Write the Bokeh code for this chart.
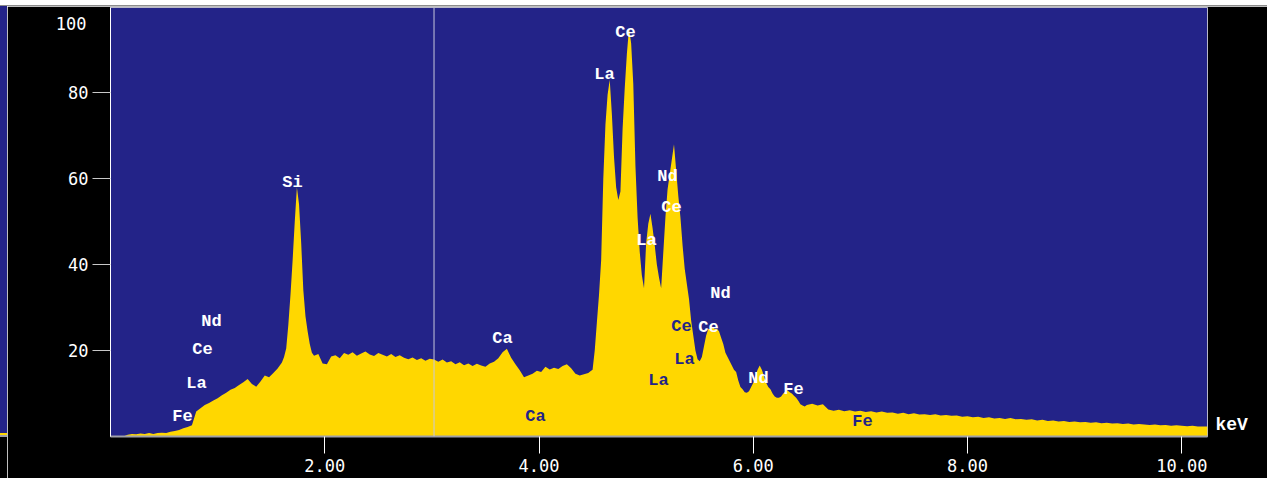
from bokeh.plotting import figure
from bokeh.models import (Range1d, FixedTicker, Span, ColumnDataSource,
                          Spacer, NumeralTickFormatter, LinearAxis)
from bokeh.layouts import column, row
from bokeh.core.properties import value
from bokeh.embed import file_html
from bokeh.resources import INLINE

# ---------------- data ----------------
# low-energy region
energy_low = [0.00, 0.04, 0.08, 0.12, 0.16, 0.20, 0.24, 0.28, 0.32, 0.36,
              0.40, 0.44, 0.48, 0.52, 0.56, 0.60, 0.64, 0.68, 0.72, 0.76,
              0.80, 0.84, 0.88, 0.92, 0.96, 1.00, 1.04, 1.08, 1.12, 1.16,
              1.20, 1.24, 1.28, 1.32, 1.36, 1.40, 1.44, 1.48, 1.52, 1.56, 1.60]
counts_low = [0.0, 0.0, 0.0, 0.0, 0.4, 0.6, 0.5, 0.7, 0.6, 0.8,
              0.6, 0.8, 0.9, 0.8, 1.1, 1.3, 1.5, 1.9, 2.2, 2.6,
              5.8, 6.6, 7.3, 7.8, 8.4, 8.9, 9.6, 10.2, 10.9, 11.3,
              12.0, 12.6, 13.4, 12.2, 11.6, 12.8, 14.2, 13.8, 14.8, 15.8, 17.2]

# Si peak
energy_si = [1.62, 1.64, 1.66, 1.68, 1.70, 1.72, 1.74, 1.76, 1.78, 1.80,
             1.82, 1.84, 1.86, 1.88, 1.90]
counts_si = [18.5, 20.5, 26.0, 33.0, 41.0, 50.0, 58.0, 54.0, 45.0, 34.0,
             28.0, 24.5, 21.5, 19.5, 18.8]

# plateau and Ca
energy_mid = [1.94, 1.98, 2.02, 2.06, 2.10, 2.14, 2.18, 2.22, 2.26, 2.30,
              2.34, 2.38, 2.42, 2.46, 2.50, 2.54, 2.58, 2.62, 2.66, 2.70,
              2.74, 2.78, 2.82, 2.86, 2.90, 2.94, 2.98, 3.02, 3.06, 3.10,
              3.14, 3.18, 3.22, 3.26, 3.30, 3.34, 3.38, 3.42, 3.46, 3.50,
              3.54, 3.58, 3.62, 3.66, 3.70, 3.74, 3.78, 3.82, 3.86, 3.90,
              3.94, 3.98, 4.02, 4.06, 4.10, 4.14, 4.18, 4.22, 4.26, 4.30,
              4.34, 4.38, 4.42, 4.46]
counts_mid = [19.2, 17.0, 16.8, 18.6, 18.9, 18.2, 19.4, 19.0, 19.6, 18.8,
              19.3, 19.8, 19.1, 18.7, 19.4, 19.0, 18.6, 19.2, 18.5, 18.9,
              18.3, 18.0, 18.4, 17.8, 18.2, 17.6, 18.1, 17.9, 17.4, 17.9,
              17.2, 17.5, 16.8, 17.3, 16.6, 17.0, 16.4, 16.9, 16.5, 16.2,
              17.0, 17.4, 18.2, 19.6, 20.4, 18.3, 16.8, 15.4, 13.8, 14.2,
              14.6, 15.3, 15.0, 16.2, 15.6, 16.0, 15.7, 16.4, 16.8, 15.9,
              14.6, 14.2, 14.5, 14.8]

# rare-earth L lines, Fe K
energy_ree = [4.48, 4.50, 4.52, 4.54, 4.56, 4.58, 4.60, 4.62, 4.64, 4.66,
              4.68, 4.70, 4.72, 4.74, 4.76, 4.78, 4.80, 4.82, 4.84, 4.86,
              4.88, 4.90, 4.92, 4.94, 4.96, 4.98, 5.00, 5.02, 5.04, 5.06,
              5.08, 5.10, 5.12, 5.14, 5.16, 5.18, 5.20, 5.22, 5.24, 5.26,
              5.28, 5.30, 5.32, 5.34, 5.36, 5.38, 5.40, 5.42, 5.44, 5.46,
              5.48, 5.50, 5.52, 5.54, 5.56, 5.58, 5.60, 5.62, 5.64, 5.66,
              5.68, 5.70, 5.72, 5.74, 5.76, 5.78, 5.80, 5.82, 5.84, 5.86,
              5.88, 5.90, 5.92, 5.94, 5.96, 5.98, 6.00, 6.02, 6.04, 6.06,
              6.08, 6.10, 6.12, 6.14, 6.16, 6.18, 6.20, 6.22, 6.24, 6.26,
              6.28, 6.30, 6.32, 6.34, 6.36, 6.38, 6.40, 6.42, 6.44, 6.46,
              6.48, 6.50]
counts_ree = [15.2, 15.5, 20.0, 26.5, 33.0, 41.0, 60.0, 72.5, 79.5, 83.0,
              75.0, 65.0, 58.0, 55.0, 57.0, 71.5, 81.0, 89.0, 95.0, 91.5,
              82.0, 63.0, 51.0, 43.0, 37.5, 34.5, 45.0, 49.5, 51.8, 48.5,
              44.5, 40.0, 37.0, 34.5, 42.8, 51.0, 57.5, 61.0, 64.5, 68.0,
              62.0, 56.0, 51.0, 44.5, 39.0, 35.5, 32.0, 27.0, 23.5, 20.0,
              18.0, 17.5, 18.5, 21.0, 23.5, 25.0, 25.0, 25.5, 25.0, 25.0,
              24.5, 23.0, 21.5, 19.5, 18.5, 17.5, 16.5, 15.5, 15.0, 13.0,
              11.5, 11.0, 10.3, 10.2, 10.5, 11.5, 12.5, 14.0, 15.5, 16.5,
              15.5, 14.0, 12.5, 11.5, 11.0, 10.0, 9.3, 9.0, 9.0, 9.3,
              10.0, 10.5, 10.7, 10.3, 10.0, 9.5, 9.0, 8.3, 7.5, 7.2,
              7.0, 7.3]

# high-energy tail
energy_tail = [6.55, 6.60, 6.65, 6.70, 6.75, 6.80, 6.85, 6.90, 6.95, 7.00,
               7.05, 7.10, 7.15, 7.20, 7.25, 7.30, 7.35, 7.40, 7.45, 7.50,
               7.55, 7.60, 7.65, 7.70, 7.75, 7.80, 7.85, 7.90, 7.95, 8.00,
               8.05, 8.10, 8.15, 8.20, 8.25, 8.30, 8.35, 8.40, 8.45, 8.50,
               8.55, 8.60, 8.65, 8.70, 8.75, 8.80, 8.85, 8.90, 8.95, 9.00,
               9.05, 9.10, 9.15, 9.20, 9.25, 9.30, 9.35, 9.40, 9.45, 9.50,
               9.55, 9.60, 9.65, 9.70, 9.75, 9.80, 9.85, 9.90, 9.95, 10.00,
               10.05, 10.10, 10.15, 10.20, 10.24]
counts_tail = [7.6, 7.2, 7.5, 6.3, 6.0, 6.2, 5.9, 6.1, 5.8, 6.0,
               5.7, 5.9, 5.6, 5.8, 5.5, 5.6, 5.3, 5.5, 5.2, 5.4,
               5.1, 5.2, 5.0, 5.2, 4.9, 5.0, 4.8, 4.9, 4.6, 4.7,
               4.5, 4.6, 4.3, 4.5, 4.2, 4.3, 4.1, 4.3, 4.0, 4.1,
               3.9, 4.0, 3.7, 3.9, 3.6, 3.7, 3.5, 3.6, 3.4, 3.5,
               3.3, 3.4, 3.2, 3.3, 3.1, 3.2, 3.0, 3.1, 2.9, 3.0,
               2.8, 2.9, 2.8, 2.7, 2.8, 2.6, 2.7, 2.5, 2.6, 2.5,
               2.4, 2.5, 2.3, 2.3, 2.3]

# element markers
label_text = ["Fe", "La", "Ce", "Nd", "Si", "Ca", "Ca", "La", "Ce", "La",
              "Nd", "Ce", "Ce", "La", "La", "Ce", "Nd", "Nd", "Fe", "Fe"]
label_kev = [0.672, 0.803, 0.859, 0.943, 1.699, 3.659, 3.967, 4.611, 4.807, 5.003,
             5.200, 5.237, 5.330, 5.358, 5.115, 5.582, 5.694, 6.049, 6.375, 7.020]
label_height = [4.65, 12.3, 20.2, 26.7, 59.1, 22.8, 4.65, 84.2, 94.0, 45.6,
                60.5, 53.3, 25.6, 17.9, 13.0, 25.4, 33.3, 13.5, 10.9, 3.5]
label_inside = [False, False, False, False, False, False, True, False, False, False,
                False, False, True, True, True, False, False, False, False, True]

x_ticks = [2, 4, 6, 8, 10]
y_ticks = [20, 40, 60, 80]
y_top_label = "100"
y_top_label_at = 96.0
x_unit = "keV"
x_unit_at = 2.6
cursor_kev = 3.02
x_max = 10.24
y_max = 99.8

# ---------------- styling ----------------
BLUE = "#232388"
YELLOW = "#FFD700"
GRAY = "#a0a0a8"
TICK_FONT = "DejaVu Sans Mono"

energy = energy_low + energy_si + energy_mid + energy_ree + energy_tail
counts = counts_low + counts_si + counts_mid + counts_ree + counts_tail
assert len(energy) == len(counts)

p = figure(width=1260, height=472, output_backend="svg", toolbar_location=None,
           x_range=Range1d(0, x_max), y_range=Range1d(0, y_max),
           min_border_left=103, min_border_right=60, min_border_top=1,
           min_border_bottom=42)
p.border_fill_color = "black"
p.background_fill_color = BLUE
p.outline_line_color = "#b8b8c8"
p.outline_line_width = 1
p.xgrid.visible = False
p.ygrid.visible = False

p.varea(x=energy, y1=[0] * len(energy), y2=counts, fill_color=YELLOW)

src = ColumnDataSource(dict(
    x=label_kev, y=label_height, text=label_text,
    color=[BLUE if inside else "white" for inside in label_inside]))
p.text(x="x", y="y", text="text", text_color="color", source=src,
       text_align="center", text_baseline="middle",
       text_font=value("Liberation Mono"), text_font_style="bold",
       text_font_size="17px")

p.add_layout(Span(location=cursor_kev, dimension="height",
                  line_color="#c8c8dc", line_width=1))

# x axis
xa = p.xaxis[0]
xa.ticker = FixedTicker(ticks=x_ticks)
xa.formatter = NumeralTickFormatter(format="0.00")
xa.axis_line_color = GRAY
xa.axis_line_width = 2
xa.major_tick_out = 17
xa.major_tick_in = 0
xa.major_tick_line_color = "white"
xa.minor_tick_line_color = None
xa.major_label_standoff = 5
xa.major_label_text_color = "white"
xa.major_label_text_font = TICK_FONT
xa.major_label_text_font_size = "17px"

# y axis
ya = p.yaxis[0]
ya.ticker = FixedTicker(ticks=y_ticks)
ya.axis_line_color = "white"
ya.axis_line_width = 1
ya.major_tick_out = 18
ya.major_tick_in = 0
ya.major_tick_line_color = "#c8c8c8"
ya.minor_tick_line_color = None
ya.major_label_standoff = 4
ya.major_label_text_color = "white"
ya.major_label_text_font = TICK_FONT
ya.major_label_text_font_size = "17px"

# scale maximum "100", shown near the top without a tick mark
ytop = LinearAxis(ticker=FixedTicker(ticks=[y_top_label_at]),
                  major_label_overrides={y_top_label_at: y_top_label},
                  axis_line_color=None, major_tick_out=0, major_tick_in=0,
                  major_tick_line_color=None, minor_tick_line_color=None,
                  major_label_standoff=-21, major_label_text_color="white",
                  major_label_text_font=TICK_FONT,
                  major_label_text_font_size="17px")
p.add_layout(ytop, "left")

# unit label to the right of the frame, just above the axis
unit_axis = LinearAxis(ticker=FixedTicker(ticks=[x_unit_at]),
                       major_label_overrides={x_unit_at: x_unit},
                       axis_line_color=None, major_tick_out=0, major_tick_in=0,
                       major_tick_line_color=None, minor_tick_line_color=None,
                       major_label_standoff=8, major_label_text_color="white",
                       major_label_text_font="Liberation Mono",
                       major_label_text_font_style="bold",
                       major_label_text_font_size="18px")
p.add_layout(unit_axis, "right")

top_band = Spacer(width=1267, height=6, styles={
    "background": "linear-gradient(to bottom, #ffffff 0px, #ffffff 5px, #8c8c8c 5px, #8c8c8c 6px)"})
left_strip = Spacer(width=7, height=472, styles={
    "background": "linear-gradient(to bottom, #232388 0px, #232388 427px, #FFD700 427px, #FFD700 429px, #a0a0a8 429px, #a0a0a8 431px, #000000 431px)"})

layout = column(top_band, row(left_strip, p, spacing=0), spacing=0)

open("out.html", "w").write(file_html(layout, INLINE))
